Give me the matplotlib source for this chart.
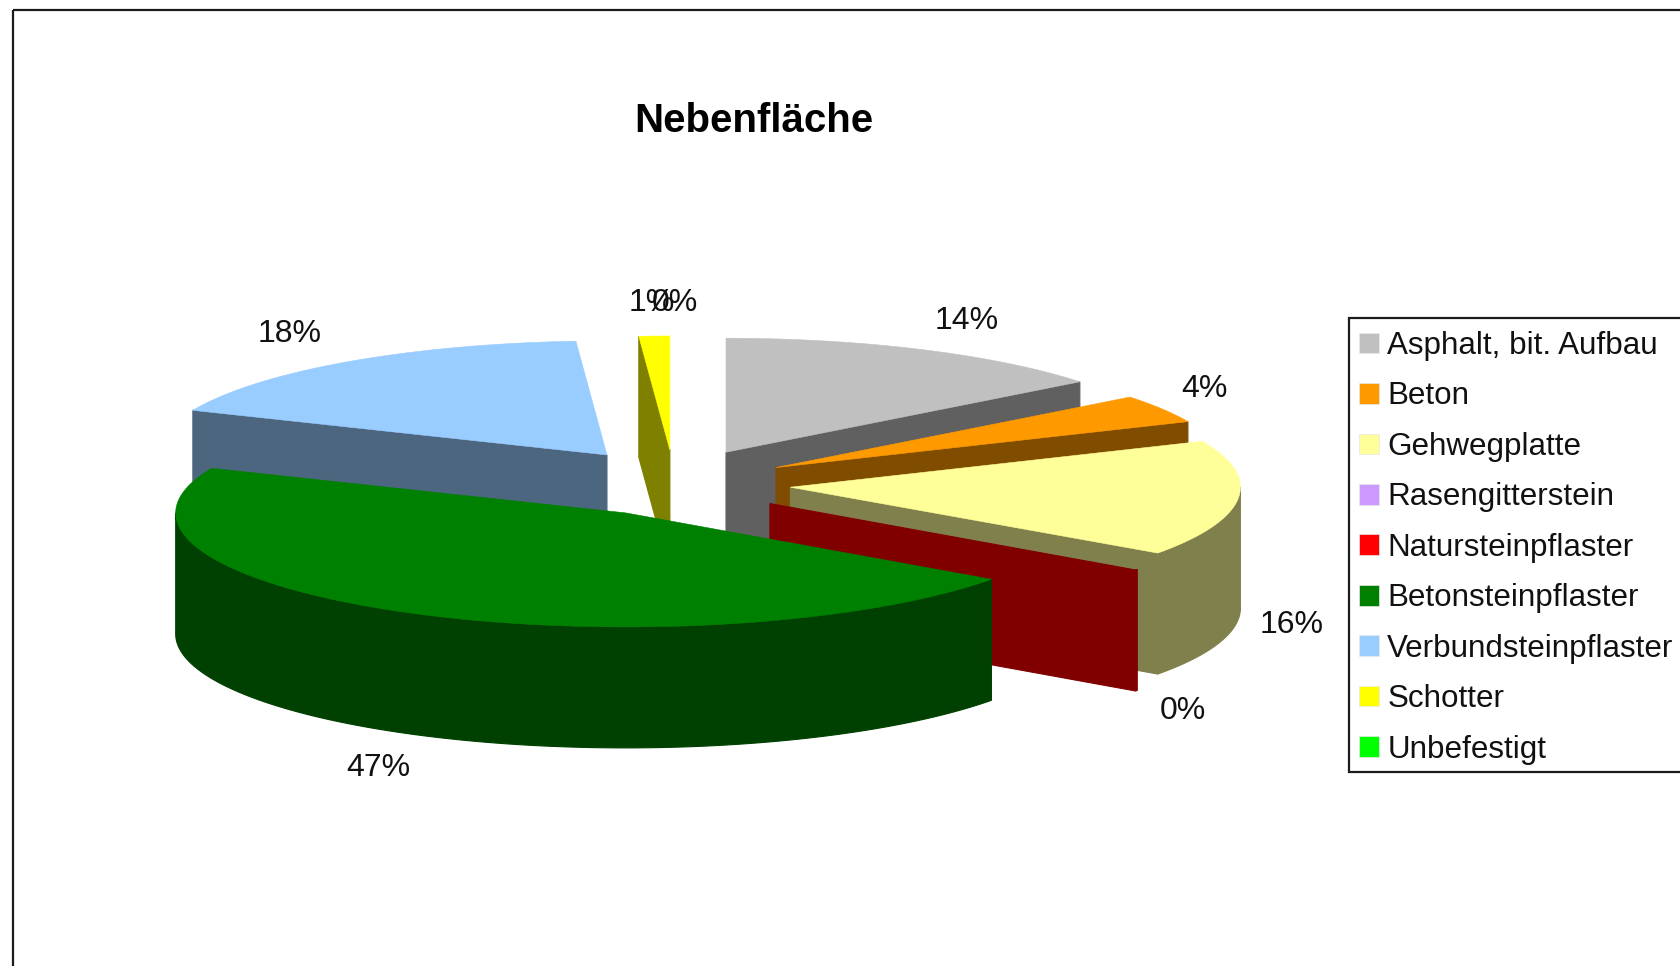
import numpy as np
import matplotlib
matplotlib.use("Agg")
import matplotlib.pyplot as plt
from matplotlib.patches import Patch, Polygon, Rectangle

# --- data -------------------------------------------------------------
title = "Nebenfläche"
categories = ["Asphalt, bit. Aufbau", "Beton", "Gehwegplatte", "Rasengitterstein",
              "Natursteinpflaster", "Betonsteinpflaster", "Verbundsteinpflaster",
              "Schotter", "Unbefestigt"]
values = [14.4, 4.0, 16.4, 0.0, 0.1, 46.5, 17.5, 1.1, 0.0]
value_labels = ["14%", "4%", "16%", "", "0%", "47%", "18%", "1%", "0%"]
colors = ["#C0C0C0", "#FF9900", "#FFFF99", "#CC99FF", "#FF0000",
          "#008000", "#99CCFF", "#FFFF00", "#00FF00"]

# --- layout (pixels of the 1681x966 picture) ----------------------------
W, H = 1681, 966
CX, CY = 674, 485
RX, RY = 450, 114
EXPLODE_X, EXPLODE_Y = 119, 32
DEPTH = 121
# perspective correction of each slice, and label offset from its rim point
slice_shift = [(0, -4), (0, -1), (-2, -1), (0, 0), (-1, 0),
               (10, 0), (2, -4), (0, -3), (0, 0)]
label_nudge = [(44, -33), (43, -21), (51, 4), None, (45, 20),
               (-17, 35), (-54, -32), (-3, -36), (1, -36)]

plt.rcParams["font.family"] = ["Liberation Sans", "DejaVu Sans"]
fig = plt.figure(figsize=(W / 100, H / 100), dpi=100, facecolor="white")
ax = fig.add_axes([0, 0, 1, 1])
ax.set_xlim(0, W)
ax.set_ylim(H, 0)
ax.axis("off")

ax.add_patch(Rectangle((13, 10), W, H, fill=False, edgecolor="#1c1c1c", lw=1.6, zorder=0))


def darker(hex_color):
    r, g, b = matplotlib.colors.to_rgb(hex_color)
    return (r * 0.5, g * 0.5, b * 0.5)


def rim(apex, deg):
    t = np.radians(deg)
    return np.column_stack([apex[0] + RX * np.sin(t), apex[1] - RY * np.cos(t)])


total = sum(values)
shares = np.array(values) / total * 360
ends = np.cumsum(shares)
starts = ends - shares

slices = []
for i, v in enumerate(values):
    mid = np.radians((starts[i] + ends[i]) / 2)
    apex = (CX + EXPLODE_X * np.sin(mid) + slice_shift[i][0],
            CY - EXPLODE_Y * np.cos(mid) + slice_shift[i][1])
    slices.append((apex[1], i, apex))
slices.sort(key=lambda s: s[0])

z = 1
for _, i, apex in slices:
    a0, a1 = starts[i], ends[i]
    if values[i] > 0:
        dark = darker(colors[i])
        arc_deg = np.linspace(a0, a1, max(int(a1 - a0) * 2, 2))
        arc = rim(apex, arc_deg)

        # outer wall, front half only
        lo, hi = max(a0, 90), min(a1, 270)
        if hi > lo:
            wall_deg = np.linspace(lo, hi, max(int(hi - lo) * 2, 2))
            top_edge = rim(apex, wall_deg)
            bottom_edge = top_edge[::-1] + np.array([0, DEPTH])
            ax.add_patch(Polygon(np.vstack([top_edge, bottom_edge]), closed=True,
                                 fc=dark, ec=dark, lw=0.8, zorder=z))
            z += 1

        # straight cut faces that turn towards the viewer
        for deg, visible in ((a0, np.sin(np.radians(a0)) < -1e-6),
                             (a1, np.sin(np.radians(a1)) > 1e-6)):
            if visible:
                p = rim(apex, np.array([deg]))[0]
                face = [apex, p, (p[0], p[1] + DEPTH), (apex[0], apex[1] + DEPTH)]
                ax.add_patch(Polygon(face, closed=True, fc=dark, ec=dark, lw=0.8, zorder=z))
                z += 1

        # top face (a sliver of under one degree shows only its wall)
        if a1 - a0 >= 1:
            top = np.vstack([[apex], arc])
            ax.add_patch(Polygon(top, closed=True, fc=colors[i], ec=colors[i], lw=0.4, zorder=z))
            z += 1

for i, txt in enumerate(value_labels):
    if not txt:
        continue
    mid = (starts[i] + ends[i]) / 2
    t = np.radians(mid)
    apex = (CX + EXPLODE_X * np.sin(t), CY - EXPLODE_Y * np.cos(t))
    p = rim(apex, np.array([mid]))[0]
    drop = DEPTH if np.cos(t) < 0 else 0
    nx, ny = label_nudge[i]
    ax.text(p[0] + nx, p[1] + drop + ny, txt, ha="center", va="center",
            fontsize=23, color="#111111", zorder=500)

ax.text(754, 121, title, ha="center", va="center", fontsize=29,
        fontweight="bold", color="black", zorder=500)

# legend box runs past the right edge of the picture
ax.add_patch(Rectangle((1349, 318), W, 454, facecolor="white", edgecolor="#1c1c1c",
                       lw=1.6, zorder=590))
handles = [Patch(facecolor=c, edgecolor="#e8e8e8", lw=0.5) for c in colors]
leg = ax.legend(handles, categories, loc="upper left",
                bbox_to_anchor=(1349 / W, 1 - 321 / H), bbox_transform=fig.transFigure,
                fontsize=22.6, frameon=False, borderaxespad=0, borderpad=0.32,
                handlelength=0.64, handleheight=0.64, handletextpad=0.26,
                labelspacing=0.651, labelcolor="#111111")
leg.set_zorder(600)

fig.savefig("out.png", dpi=100, facecolor="white")
